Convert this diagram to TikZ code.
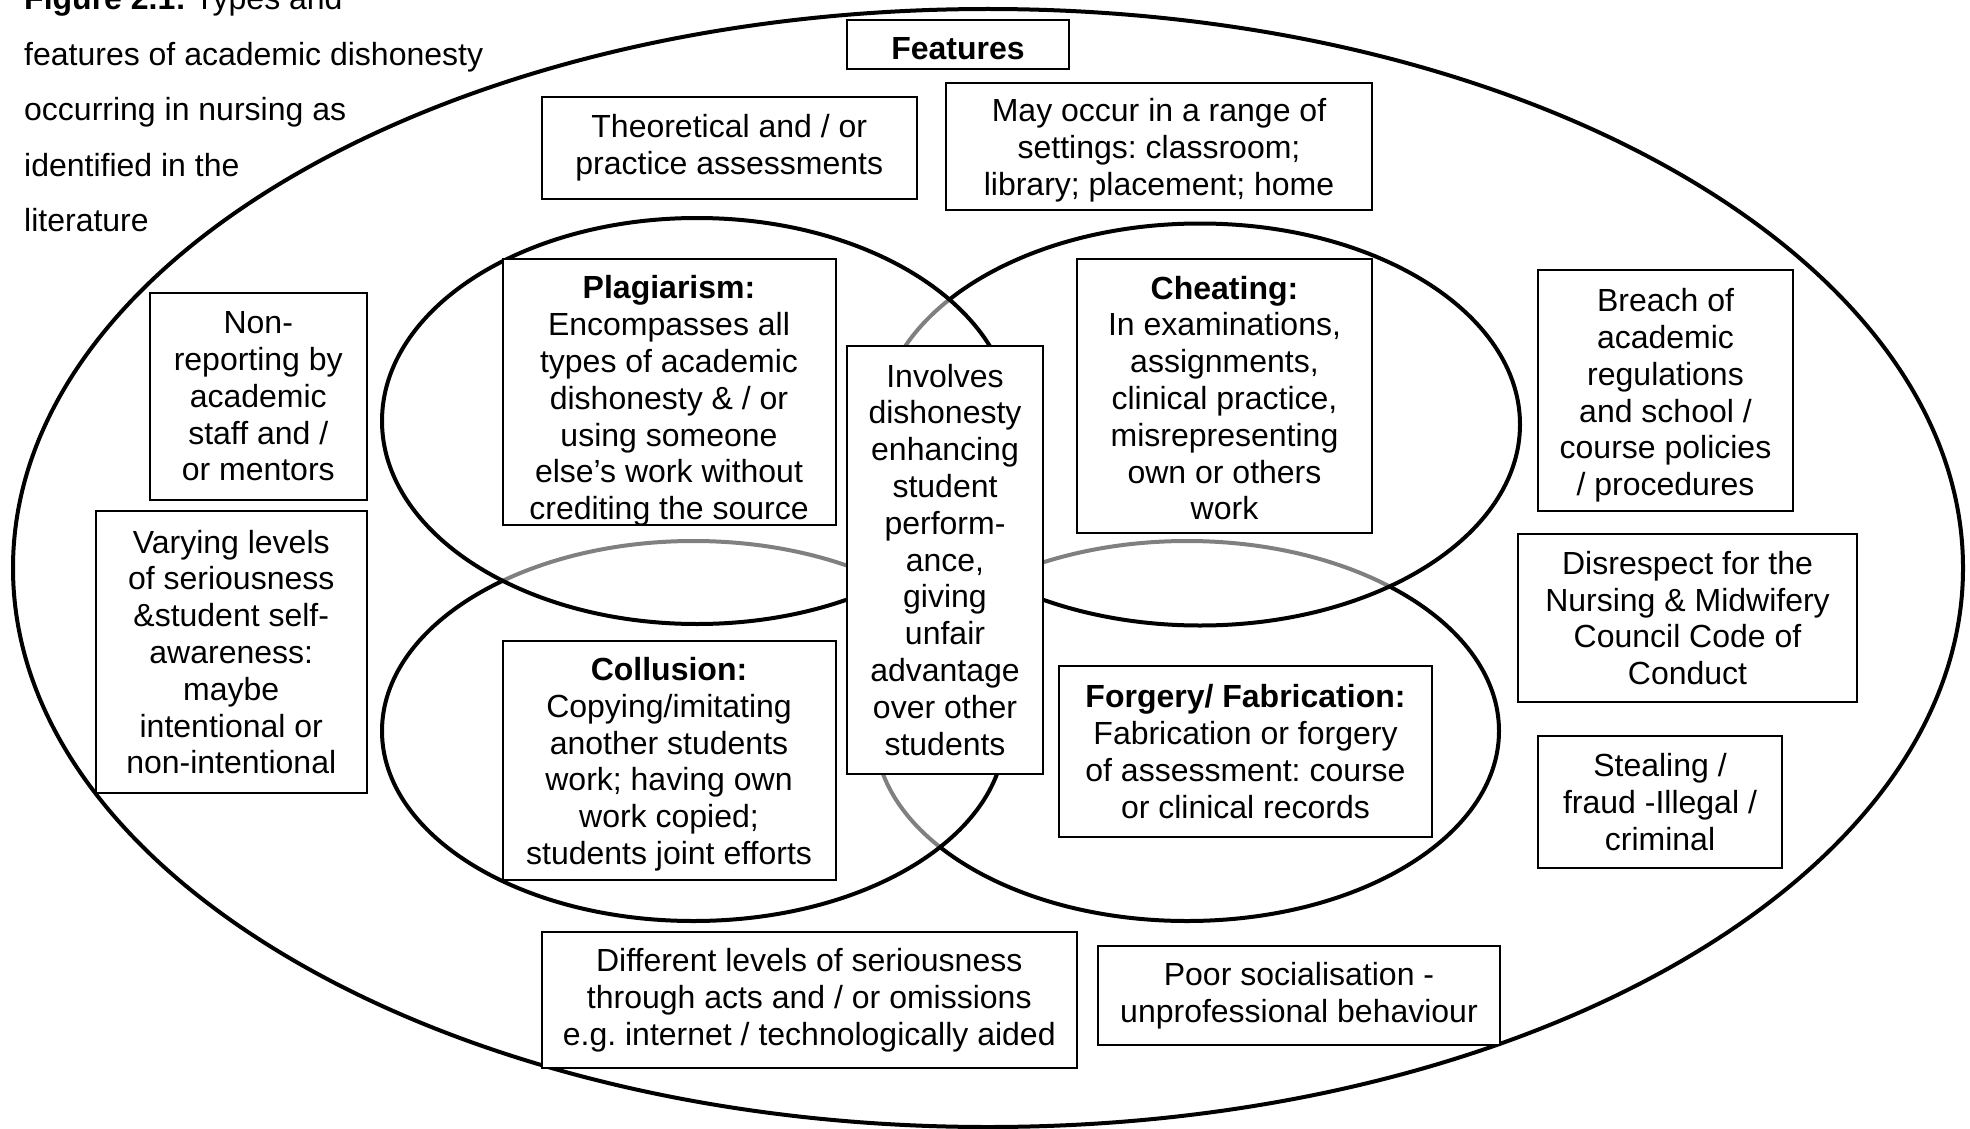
\documentclass[tikz,border=0pt]{standalone}
\usepackage{fontspec}
\setmainfont{Liberation Sans}
\frenchspacing
\begin{document}
\begin{tikzpicture}[x=1pt,y=-1pt,
  every node/.style={font=\fontsize{32}{36.8}\selectfont},
  box/.style={draw=black, line width=2pt, fill=white, inner sep=0pt, align=center},
  lbl/.style={align=center, inner sep=0pt},
  ring/.style={draw=black, line width=4pt, fill=white, fill opacity=0.5},
  caption/.style={anchor=base west, inner sep=0pt},
]
\useasboundingbox (0,0) rectangle (1970,1129);

% caption
\node[caption] (cap1) at (24,10) {\textbf{Figure 2.1:} Types and};
\node[caption] (cap2) at (24,65.5) {features of academic dishonesty};
\node[caption] (cap3) at (24,120.5) {occurring in nursing as};
\node[caption] (cap4) at (24,176) {identified in the};
\node[caption] (cap5) at (24,231.5) {literature};

% outer boundary of features
\draw[line width=4pt] (988,568) ellipse [x radius=975pt, y radius=559pt];

% the four overlapping types (half-transparent white fill greys the lines beneath)
\draw[ring] (1187,731) ellipse [x radius=312pt, y radius=190pt];
\draw[ring] (1200,424.5) ellipse [x radius=320pt, y radius=201pt];
\draw[ring] (693.5,731) ellipse [x radius=311.5pt, y radius=190pt];
\draw[ring] (697,421) ellipse [x radius=315pt, y radius=203pt];

% feature boxes
\node[box, minimum width=222pt, minimum height=49pt,
  label={[lbl, yshift=-4pt]center:\textbf{Features}}] (features) at (958,44.5) {};
\node[box, minimum width=375.5pt, minimum height=101.5pt] (theory) at (729.25,147.75)
  {Theoretical and / or\\practice assessments};
\node[box, minimum width=426pt, minimum height=127pt,
  label={[lbl, yshift=-4pt]center:{May occur in a range of\\settings: classroom;\\library; placement; home}}]
  (settings) at (1159,146.5) {};
\node[box, minimum width=217.5pt, minimum height=207pt] (nonrep) at (258.25,396.5)
  {Non-\\reporting by\\academic\\staff and /\\or mentors};
\node[box, minimum width=271.5pt, minimum height=282pt] (varying) at (231.25,652)
  {Varying levels\\of seriousness\\\&student self-\\awareness:\\maybe\\intentional or\\non-intentional};
\node[box, minimum width=255pt, minimum height=241pt,
  label={[lbl, yshift=-5pt]center:{Breach of\\academic\\regulations\\and school /\\course policies\\/ procedures}}]
  (breach) at (1665.5,390.5) {};
\node[box, minimum width=339pt, minimum height=168pt] (disrespect) at (1687.5,618)
  {Disrespect for the\\Nursing \& Midwifery\\Council Code of\\Conduct};
\node[box, minimum width=244pt, minimum height=132pt] (stealing) at (1660,802)
  {Stealing /\\fraud -Illegal /\\criminal};
\node[box, minimum width=535.5pt, minimum height=136pt] (levels) at (809.25,1000)
  {Different levels of seriousness\\through acts and / or omissions\\e.g. internet / technologically aided};
\node[box, minimum width=402pt, minimum height=99pt] (social) at (1299,995.5)
  {Poor socialisation -\\unprofessional behaviour};

% type boxes
\node[box, minimum width=333pt, minimum height=266pt] (plag) at (669,392) {};
\begin{scope}
  \clip (plag.north west) rectangle (plag.south east);
  \node[lbl] (plagtext) at (669,401)
    {\textbf{Plagiarism:}\\Encompasses all\\types of academic\\dishonesty \& / or\\using someone\\else’s work without\\crediting the source};
\end{scope}
\node[box, minimum width=295pt, minimum height=274pt,
  label={[lbl, yshift=-2pt]center:{\textbf{Cheating:}\\In examinations,\\assignments,\\clinical practice,\\misrepresenting\\own or others\\work}}]
  (cheat) at (1224.5,396) {};
\node[box, minimum width=333pt, minimum height=238.5pt,
  label={[lbl, yshift=-4pt]center:{\textbf{Collusion:}\\Copying/imitating\\another students\\work; having own\\work copied;\\students joint efforts}}]
  (collusion) at (669,760.25) {};
\node[box, minimum width=373pt, minimum height=171pt] (forgery) at (1245.5,751.5)
  {\textbf{Forgery/ Fabrication:}\\Fabrication or forgery\\of assessment: course\\or clinical records};
\node[box, minimum width=196pt, minimum height=428.5pt] (involves) at (945,559.75)
  {Involves\\dishonesty\\enhancing\\student\\perform-\\ance,\\giving\\unfair\\advantage\\over other\\students};
\end{tikzpicture}
\end{document}
